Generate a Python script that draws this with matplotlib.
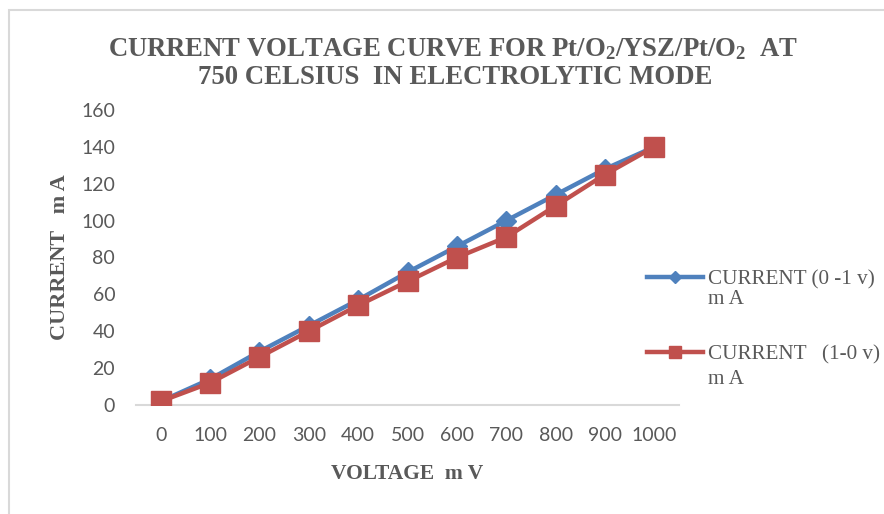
import matplotlib
matplotlib.use("Agg")
import matplotlib.pyplot as plt
from matplotlib.patches import Rectangle

# data
voltage = ["0", "100", "200", "300", "400", "500", "600", "700", "800", "900", "1000"]
current_up = [2, 14, 29, 43, 57, 72, 86, 100, 114, 128, 140]
current_down = [2, 12, 26, 40, 54, 67, 80, 91, 108, 125, 140]
label_up = "CURRENT (0 -1 v)"
label_down = "CURRENT   (1-0 v)"
unit = "m A"

gray = "#595959"
plt.rcParams["mathtext.fontset"] = "custom"
plt.rcParams["mathtext.rm"] = "Liberation Serif"
plt.rcParams["mathtext.bf"] = "Liberation Serif:bold"

W, H = 884, 514
fig = plt.figure(figsize=(W / 100, H / 100), dpi=100)
ax = fig.add_axes([136 / W, 1 - 405 / H, (679 - 136) / W, (405 - 110) / H])

x = list(range(len(voltage)))
ax.plot(x, current_up, color="#4F81BD", lw=3.2, marker="D", ms=10,
        label=label_up, zorder=3)
ax.plot(x, current_down, color="#C0504D", lw=3.2, marker="s", ms=15,
        label=label_down, zorder=4)

ax.set_xlim(-0.5, len(voltage) - 0.5)
ax.set_ylim(0, 160)
ax.set_xticks(x)
ax.set_xticklabels(voltage)
ax.set_yticks(range(0, 161, 20))
for s in ["top", "right", "left"]:
    ax.spines[s].set_visible(False)
ax.spines["bottom"].set_color("#D9D9D9")
ax.spines["bottom"].set_linewidth(1.5)
ax.spines["bottom"].set_zorder(1)
ax.tick_params(length=0, labelsize=14, labelcolor=gray)
ax.tick_params(axis="x", pad=16)
ax.tick_params(axis="y", pad=15)
for t in ax.get_xticklabels() + ax.get_yticklabels():
    t.set_family("Lato")

ax.set_xlabel("VOLTAGE  m V", family="Liberation Serif", fontweight="bold",
              fontsize=15.5, color=gray, labelpad=14)
ax.set_ylabel("CURRENT   m A", family="Liberation Serif", fontweight="bold",
              fontsize=16, color=gray, labelpad=8)

fig.text(453 / W, 1 - 49 / H,
         r"CURRENT VOLTAGE CURVE FOR Pt/O$\mathbf{_2}$/YSZ/Pt/O$\mathbf{_2}$  AT",
         ha="center", va="center", family="Liberation Serif",
         fontweight="bold", fontsize=19.3, color=gray)
fig.text(455 / W, 1 - 78 / H, "750 CELSIUS  IN ELECTROLYTIC MODE",
         ha="center", va="center", family="Liberation Serif",
         fontweight="bold", fontsize=19.3, color=gray)

leg = ax.legend(loc="center left", bbox_to_anchor=(647 / W, 1 - 317 / H),
                bbox_transform=fig.transFigure, frameon=False,
                prop={"family": "Liberation Serif", "size": 15.2},
                handlelength=2.65, handletextpad=0.25, labelspacing=2.62,
                markerscale=0.6, borderpad=0, borderaxespad=0)
for t in leg.get_texts():
    t.set_color(gray)

# second line of each legend label
for yy in [300, 380]:
    fig.text(708 / W, 1 - yy / H, unit, ha="left", va="center",
             family="Liberation Serif", fontsize=15.2, color=gray)

# chart border (cropped on right and bottom)
fig.patches.append(Rectangle((9 / W, -0.1), 1.2, 1 - 10 / H + 0.1,
                             transform=fig.transFigure, fill=False,
                             edgecolor="#D9D9D9", lw=1.5))

fig.savefig("out.png", dpi=100)
